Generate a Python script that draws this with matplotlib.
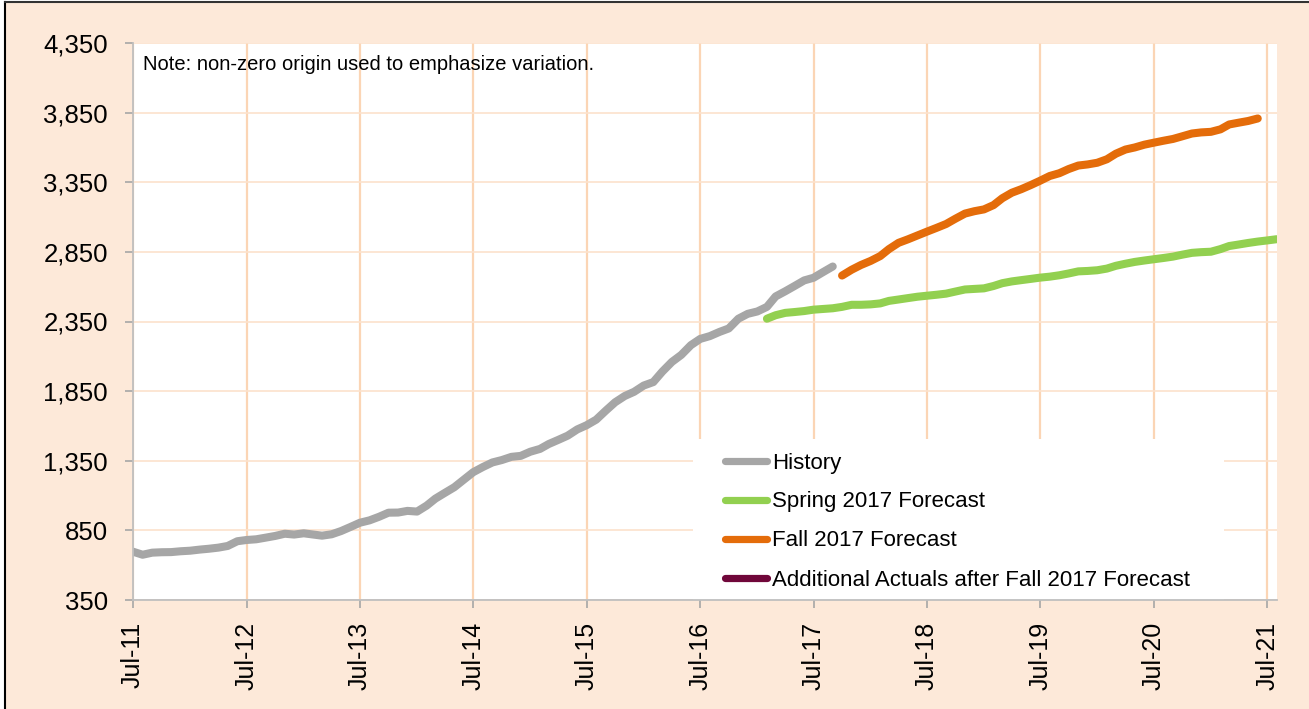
import matplotlib
matplotlib.use('Agg')
import matplotlib.pyplot as plt
from matplotlib.patches import Rectangle
from matplotlib.lines import Line2D
import pandas as pd

plt.rcParams['font.family'] = ['Liberation Sans', 'DejaVu Sans']

# ---------------- data ----------------
history_start = '2011-07-01'
history_values = [697, 675, 690, 693, 694, 700, 704, 712, 718, 726,
                  738, 772, 781, 786, 798, 810, 826, 820, 829, 820,
                  812, 822, 845, 875, 905, 922, 948, 977, 978, 990,
                  985, 1028, 1078, 1120, 1160, 1215, 1268, 1305, 1338, 1355,
                  1378, 1385, 1415, 1435, 1470, 1500, 1530, 1575, 1605, 1645,
                  1710, 1770, 1815, 1845, 1890, 1915, 1990, 2060, 2110, 2180,
                  2225, 2245, 2275, 2300, 2370, 2405, 2422, 2455, 2530, 2567,
                  2605, 2645, 2664, 2705, 2745]

spring_start = '2017-02-01'
spring_values = [2370, 2395, 2412, 2418, 2425, 2435, 2440, 2445, 2455, 2470,
                 2470, 2473, 2480, 2498, 2508, 2518, 2528, 2535, 2542, 2550,
                 2565, 2580, 2584, 2588, 2605, 2625, 2638, 2647, 2656, 2665,
                 2672, 2682, 2695, 2710, 2713, 2718, 2730, 2750, 2765, 2778,
                 2788, 2797, 2806, 2816, 2830, 2843, 2848, 2851, 2870, 2892,
                 2903, 2914, 2924, 2932, 2941]

fall_start = '2017-10-01'
fall_values = [2680, 2722, 2756, 2785, 2820, 2870, 2915, 2940, 2968, 2995,
               3022, 3050, 3088, 3125, 3142, 3155, 3186, 3235, 3275, 3300,
               3330, 3361, 3395, 3415, 3445, 3470, 3478, 3490, 3515, 3555,
               3585, 3600, 3620, 3634, 3648, 3661, 3680, 3700, 3708, 3712,
               3730, 3765, 3778, 3790, 3808]

additional_values = []

series_labels = ['History', 'Spring 2017 Forecast', 'Fall 2017 Forecast',
                 'Additional Actuals after Fall 2017 Forecast']
series_colors = ['#A6A6A6', '#92D050', '#E46C0A', '#70073A']

y_ticks = [350, 850, 1350, 1850, 2350, 2850, 3350, 3850, 4350]
x_tick_dates = pd.date_range('2011-07-01', '2021-07-01', freq='12MS')
x_tick_labels = ['Jul-11', 'Jul-12', 'Jul-13', 'Jul-14', 'Jul-15', 'Jul-16',
                 'Jul-17', 'Jul-18', 'Jul-19', 'Jul-20', 'Jul-21']
note_text = 'Note: non-zero origin used to emphasize variation.'

# ---------------- figure ----------------
W, H = 1309, 709
fig = plt.figure(figsize=(W / 100, H / 100), dpi=100, facecolor='white')


def fx(px):
    return px / W


def fy(py):
    return 1 - py / H


# peach chart area with black left/top border
fig.patches.append(Rectangle((fx(6), 0), 1 - fx(6), fy(3), transform=fig.transFigure,
                             facecolor='#FDE9D9', edgecolor='none', zorder=-10))
fig.lines.append(Line2D([fx(5), fx(5)], [0, fy(2)], transform=fig.transFigure,
                        color='black', lw=1.5, zorder=-5))
fig.lines.append(Line2D([fx(5), 1], [fy(2), fy(2)], transform=fig.transFigure,
                        color='#333333', lw=1.5, zorder=-5))

L, R, T, B = 133, 1277, 43, 600
ax = fig.add_axes([fx(L), fy(B), fx(R) - fx(L), fy(T) - fy(B)])
ax.set_facecolor('white')

# series
dates_h = pd.date_range(history_start, periods=len(history_values), freq='MS')
dates_s = pd.date_range(spring_start, periods=len(spring_values), freq='MS')
dates_f = pd.date_range(fall_start, periods=len(fall_values), freq='MS')
lw = 5.8
ax.plot(dates_h, history_values, color=series_colors[0], lw=lw,
        solid_capstyle='round', solid_joinstyle='round', label=series_labels[0], zorder=3)
ax.plot(dates_s, spring_values, color=series_colors[1], lw=lw,
        solid_capstyle='round', solid_joinstyle='round', label=series_labels[1], zorder=3)
ax.plot(dates_f, fall_values, color=series_colors[2], lw=lw,
        solid_capstyle='round', solid_joinstyle='round', label=series_labels[2], zorder=3)
ax.plot(pd.to_datetime(pd.Series(additional_values, dtype='float64')), additional_values,
        color=series_colors[3], lw=lw, solid_capstyle='round', label=series_labels[3], zorder=3)

ax.set_ylim(350, 4350)
ax.set_xlim(pd.Timestamp('2011-07-01'), pd.Timestamp('2021-08-02'))

ax.set_yticks(y_ticks)
ax.set_yticklabels([f'{v:,}' for v in y_ticks], fontsize=18.5)
ax.set_xticks(x_tick_dates)
ax.set_xticklabels(x_tick_labels, rotation=90, fontsize=18)

# grid
for d in x_tick_dates:
    ax.axvline(d, color='#FBD5B5', lw=1.6, zorder=0.5)
for v in y_ticks:
    ax.axhline(v, color='#FCE2CC', lw=1.2, zorder=0.5)

for s in ['top', 'right']:
    ax.spines[s].set_visible(False)
for s in ['left', 'bottom']:
    ax.spines[s].set_color('#BFBFBF')
    ax.spines[s].set_linewidth(1.3)
    ax.spines[s].set_zorder(4)

ax.tick_params(axis='y', color='#A6A6A6', length=6, width=1.2, pad=12)
ax.tick_params(axis='x', color='#A6A6A6', length=6, width=1.2, pad=10)

# note
ax.text(fx(143), fy(64), note_text, transform=fig.transFigure, fontsize=14.5,
        ha='left', va='center')

# legend background box
ax.add_patch(Rectangle((fx(693), fy(600)), fx(1224) - fx(693), fy(439) - fy(600),
                       transform=fig.transFigure, facecolor='white', edgecolor='none',
                       zorder=1.5))

handles, labels = ax.get_legend_handles_labels()
leg = ax.legend(handles, labels, loc='upper left',
                bbox_to_anchor=(fx(724.5), fy(452.5)), bbox_transform=fig.transFigure,
                frameon=False, fontsize=16, borderpad=0, borderaxespad=0,
                handlelength=1.9, handletextpad=0.25, labelspacing=0.81)
for line in leg.get_lines():
    line.set_linewidth(5.2)
    line.set_solid_capstyle('round')
leg.set_zorder(5)

fig.savefig('out.png', dpi=100, facecolor=fig.get_facecolor())
